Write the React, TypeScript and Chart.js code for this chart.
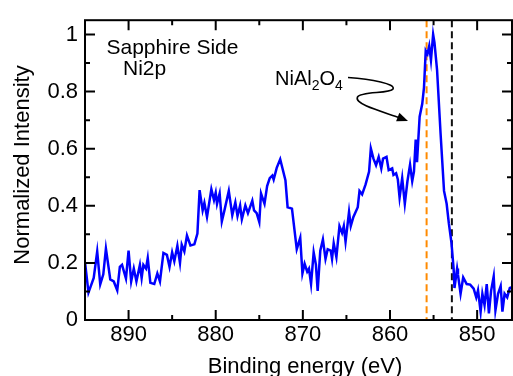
import React, { useEffect, useRef } from 'react';
import { Chart, registerables } from 'chart.js';
Chart.register(...registerables);

const energy = [
  895.0, 894.6, 894.0, 893.6, 893.25, 892.9, 892.6, 892.1, 891.7, 891.3,
  891.0, 890.75, 890.3, 890.0, 889.7, 889.4, 889.1, 888.7, 888.5, 888.3,
  888.0, 887.8, 887.5, 887.05, 886.7, 886.4, 886.0, 885.6, 885.3, 885.0,
  884.75, 884.4, 884.1, 883.9, 883.6, 883.3, 882.9, 882.45, 882.1, 881.85,
  881.5, 881.3, 881.0, 880.5, 880.2, 880.0, 879.85, 879.55, 879.3, 879.0,
  878.5, 878.1, 877.75, 877.5, 877.2, 877.0, 876.6, 876.3, 875.8, 875.6,
  875.3, 875.0, 874.8, 874.4, 874.1, 873.8, 873.5, 873.35, 873.0, 872.6,
  872.0, 871.75, 871.25, 870.7, 870.3, 870.05, 869.8, 869.5, 869.3, 869.06,
  868.76, 868.5, 868.3, 868.0, 867.7, 867.4, 867.15, 866.8, 866.65, 866.46,
  866.15, 865.8, 865.5, 865.3, 865.1, 864.7, 864.5, 864.2, 863.7, 863.5,
  863.2, 862.8, 862.4, 862.2, 861.9, 861.6, 861.3, 861.0, 860.8, 860.4,
  860.15, 859.75, 859.6, 859.3, 859.1, 858.9, 858.6, 858.3, 858.0, 857.7,
  857.45, 857.25, 857.05, 856.9, 856.6, 856.3, 856.1, 855.9, 855.7, 855.5,
  855.3, 855.05, 854.9, 854.6, 854.2, 853.8, 853.5, 853.25, 852.95, 852.7,
  852.6, 852.3, 852.2, 851.9, 851.6, 851.2, 850.8, 850.4, 850.1, 849.9,
  849.6, 849.4, 849.15, 848.9, 848.65, 848.4, 848.1, 847.9, 847.6, 847.3,
  847.1, 846.85, 846.55, 846.25, 846.0,
];

const intensity = [
  0.203, 0.096, 0.147, 0.24, 0.125, 0.16, 0.25, 0.142, 0.135, 0.104,
  0.186, 0.193, 0.145, 0.243, 0.135, 0.18, 0.135, 0.193, 0.147, 0.193,
  0.18, 0.217, 0.13, 0.126, 0.163, 0.135, 0.235, 0.228, 0.186, 0.237,
  0.206, 0.26, 0.2, 0.264, 0.24, 0.296, 0.261, 0.265, 0.303, 0.455,
  0.384, 0.41, 0.361, 0.458, 0.42, 0.446, 0.407, 0.443, 0.345, 0.384,
  0.452, 0.367, 0.412, 0.364, 0.401, 0.353, 0.401, 0.374, 0.418, 0.384,
  0.374, 0.343, 0.443, 0.407, 0.469, 0.497, 0.506, 0.492, 0.533, 0.563,
  0.49, 0.395, 0.39, 0.248, 0.288, 0.163, 0.197, 0.169, 0.18, 0.126,
  0.237, 0.193, 0.102, 0.243, 0.282, 0.214, 0.248, 0.243, 0.214, 0.269,
  0.22, 0.329, 0.305, 0.329, 0.274, 0.379, 0.329, 0.361, 0.395, 0.452,
  0.44, 0.475, 0.52, 0.601, 0.565, 0.542, 0.571, 0.531, 0.565, 0.571,
  0.525, 0.531, 0.508, 0.514, 0.492, 0.429, 0.497, 0.407, 0.486, 0.544,
  0.486, 0.52, 0.632, 0.553, 0.712, 0.757, 0.814, 0.943, 0.932, 0.96,
  0.91, 1.0, 0.972, 0.876, 0.655, 0.452, 0.407, 0.339, 0.271, 0.18,
  0.112, 0.18, 0.159, 0.092, 0.149, 0.126, 0.124, 0.11, 0.079, 0.104,
  0.029, 0.092, 0.052, 0.126, 0.023, 0.102, 0.153, 0.034, 0.092, 0.119,
  0.029, 0.092, 0.079, 0.112, 0.115,
];

const xMajorTicks = [890, 880, 870, 860, 850];
const xMinorTicks = [885, 875, 865, 855];
const yMajorTicks = [0, 0.2, 0.4, 0.6, 0.8, 1];
const yTickLabels = ['0', '0.2', '0.4', '0.6', '0.8', '1'];
const yMinorTicks = [0.1, 0.3, 0.5, 0.7, 0.9];
const refLines = [855.8, 852.9];
const refColors = ['#ff8a00', '#111111'];

const X_MIN = 846;
const X_MAX = 895;
const Y_MIN = 0;
const Y_MAX = 1.05;

const FONT = '"Liberation Sans", Arial, Helvetica, sans-serif';

const framePlugin = {
  id: 'framePlugin',
  beforeDatasetsDraw(chart: any) {
    const { ctx, chartArea: a, scales } = chart;
    const x = scales.x;
    ctx.save();
    ctx.beginPath();
    ctx.rect(a.left, a.top, a.right - a.left, a.bottom - a.top);
    ctx.clip();
    refLines.forEach((v, i) => {
      const px = x.getPixelForValue(v);
      ctx.strokeStyle = refColors[i];
      ctx.lineWidth = 2;
      ctx.setLineDash([7, 4]);
      ctx.beginPath();
      ctx.moveTo(px, a.top);
      ctx.lineTo(px, a.bottom);
      ctx.stroke();
    });
    ctx.restore();
  },
  afterDraw(chart: any) {
    const { ctx, chartArea: a, scales } = chart;
    const x = scales.x;
    const y = scales.y;
    ctx.save();
    ctx.strokeStyle = '#000';
    ctx.lineWidth = 2;
    ctx.setLineDash([]);
    ctx.strokeRect(a.left, a.top, a.right - a.left, a.bottom - a.top);

    const major = 10;
    const minor = 5;
    ctx.beginPath();
    const xt = (vals: number[], len: number) => {
      vals.forEach((v) => {
        const px = x.getPixelForValue(v);
        ctx.moveTo(px, a.bottom);
        ctx.lineTo(px, a.bottom - len);
        ctx.moveTo(px, a.top);
        ctx.lineTo(px, a.top + len);
      });
    };
    const yt = (vals: number[], len: number) => {
      vals.forEach((v) => {
        const py = y.getPixelForValue(v);
        ctx.moveTo(a.left, py);
        ctx.lineTo(a.left + len, py);
        ctx.moveTo(a.right, py);
        ctx.lineTo(a.right - len, py);
      });
    };
    xt(xMajorTicks, major);
    xt(xMinorTicks, minor);
    yt(yMajorTicks, major);
    yt(yMinorTicks, minor);
    ctx.stroke();

    // Axis titles
    ctx.fillStyle = '#000';
    ctx.font = `22px ${FONT}`;
    ctx.textAlign = 'center';
    ctx.textBaseline = 'alphabetic';
    ctx.fillText('Binding energy (eV)', 305, 373);
    ctx.save();
    ctx.translate(29, 165);
    ctx.rotate(-Math.PI / 2);
    ctx.fillText('Normalized Intensity', 0, 0);
    ctx.restore();

    // Annotations
    ctx.textAlign = 'left';
    ctx.font = `21px ${FONT}`;
    ctx.fillText('Sapphire Side', 106.5, 53.5);
    ctx.fillText('Ni2p', 123, 75);

    let tx = 275;
    const big = `20px ${FONT}`;
    const small = `14px ${FONT}`;
    const parts: [string, boolean][] = [['NiAl', false], ['2', true], ['O', false], ['4', true]];
    parts.forEach(([t, sub]) => {
      ctx.font = sub ? small : big;
      ctx.fillText(t, tx, sub ? 90 : 85);
      tx += ctx.measureText(t).width;
    });

    // Squiggly arrow
    ctx.lineWidth = 1.6;
    ctx.beginPath();
    ctx.moveTo(348, 77.5);
    ctx.bezierCurveTo(372, 79, 396, 84, 393, 89);
    ctx.bezierCurveTo(390, 94, 361, 91, 357.5, 97);
    ctx.bezierCurveTo(354, 104, 380, 111, 399, 117.5);
    ctx.stroke();
    // Arrow head
    const tipX = 408;
    const tipY = 121;
    const ang = Math.atan2(121 - 114, 408 - 390);
    const hl = 11;
    const hw = 4.5;
    ctx.beginPath();
    ctx.moveTo(tipX, tipY);
    ctx.lineTo(
      tipX - hl * Math.cos(ang) + hw * Math.sin(ang),
      tipY - hl * Math.sin(ang) - hw * Math.cos(ang)
    );
    ctx.lineTo(
      tipX - hl * Math.cos(ang) - hw * Math.sin(ang),
      tipY - hl * Math.sin(ang) + hw * Math.cos(ang)
    );
    ctx.closePath();
    ctx.fill();
    ctx.restore();
  },
};

export default function App() {
  const ref = useRef<HTMLCanvasElement>(null);
  useEffect(() => {
    document.body.style.margin = '0';
    const canvas = ref.current;
    if (!canvas) return;
    const points = energy.map((e, i) => ({ x: e, y: intensity[i] }));
    const chart = new Chart(canvas, {
      type: 'line',
      data: {
        datasets: [
          {
            data: points,
            borderColor: '#0000ff',
            borderWidth: 2.5,
            pointRadius: 0,
            tension: 0,
            fill: false,
          },
        ],
      },
      options: {
        animation: false,
        responsive: false,
        maintainAspectRatio: false,
        events: [],
        layout: { padding: { top: 10, right: 1, left: 0, bottom: 0 } },
        plugins: { legend: { display: false }, tooltip: { enabled: false } },
        scales: {
          x: {
            type: 'linear',
            reverse: true,
            min: X_MIN,
            max: X_MAX,
            grid: { display: false, drawTicks: false },
            border: { display: false },
            afterBuildTicks: (s: any) => {
              s.ticks = xMajorTicks.map((v) => ({ value: v }));
            },
            afterFit: (s: any) => {
              s.height = 56;
            },
            ticks: {
              padding: 2,
              color: '#000',
              font: { family: FONT, size: 22 },
              maxRotation: 0,
              autoSkip: false,
              callback: (v: any) => String(v),
            },
          },
          y: {
            type: 'linear',
            min: Y_MIN,
            max: Y_MAX,
            grid: { display: false, drawTicks: false },
            border: { display: false },
            afterBuildTicks: (s: any) => {
              s.ticks = yMajorTicks.map((v) => ({ value: v }));
            },
            afterFit: (s: any) => {
              s.width = 85;
            },
            ticks: {
              padding: 7,
              color: '#000',
              font: { family: FONT, size: 22 },
              autoSkip: false,
              callback: (v: any) => {
                const idx = yMajorTicks.findIndex((t) => Math.abs(t - v) < 1e-6);
                return idx >= 0 ? yTickLabels[idx] : '';
              },
            },
          },
        },
      },
      plugins: [framePlugin],
    });
    return () => chart.destroy();
  }, []);
  return (
    <div style={{ width: 513, height: 376 }}>
      <canvas ref={ref} width={513} height={376} style={{ display: 'block' }} />
    </div>
  );
}
